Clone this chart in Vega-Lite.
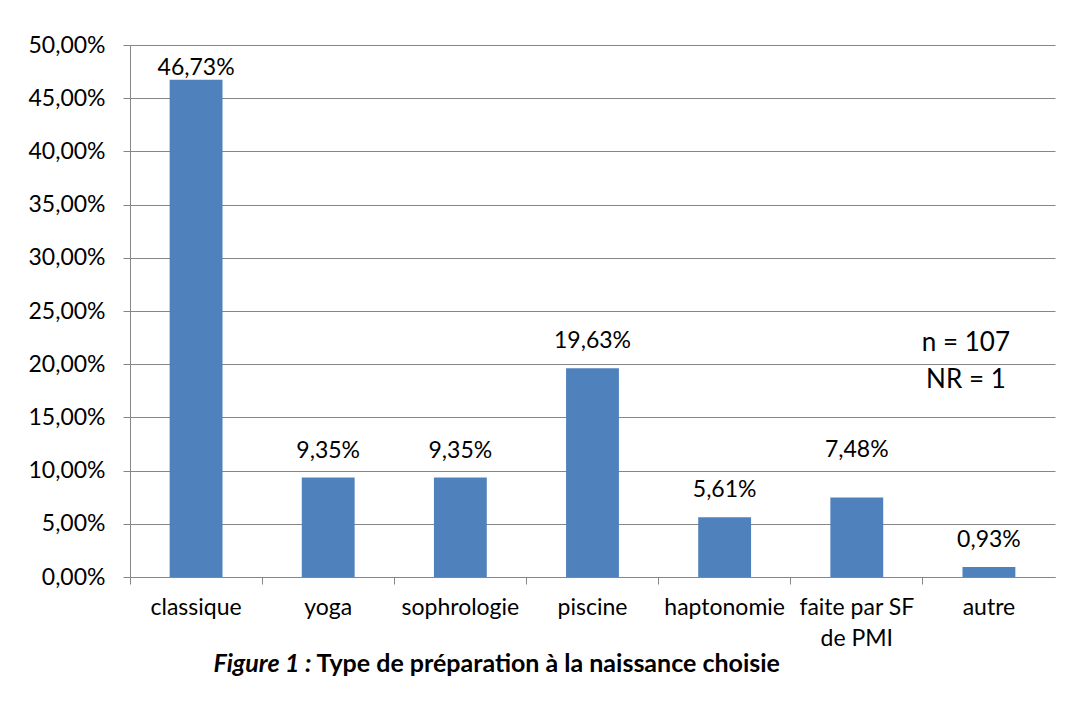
{
  "$schema": "https://vega.github.io/schema/vega-lite/v6.json",
  "autosize": "none",
  "width": 925,
  "height": 532,
  "padding": {"left": 130, "top": 45, "right": 14, "bottom": 143},
  "background": "white",
  "config": {
    "locale": {"number": {"decimal": ",", "thousands": " ", "grouping": [3], "currency": ["", " €"]}},
    "font": "Lato",
    "view": {"stroke": null},
    "axis": {"labelFont": "Lato", "labelFontSize": 23, "labelColor": "#000000", "titleFont": "Lato"}
  },
  "data": {
    "values": [
      {"type": "classique", "pct": 0.4673},
      {"type": "yoga", "pct": 0.0935},
      {"type": "sophrologie", "pct": 0.0935},
      {"type": "piscine", "pct": 0.1963},
      {"type": "haptonomie", "pct": 0.0561},
      {"type": "faite par SF de PMI", "pct": 0.0748},
      {"type": "autre", "pct": 0.0093}
    ]
  },
  "resolve": {"axis": {"x": "independent"}},
  "layer": [
    {
      "mark": {"type": "bar", "color": "#4F81BD", "width": {"band": 0.4}},
      "encoding": {
        "x": {
          "field": "type", "type": "nominal",
          "sort": ["classique", "yoga", "sophrologie", "piscine", "haptonomie", "faite par SF de PMI", "autre"],
          "scale": {"paddingInner": 0, "paddingOuter": 0},
          "axis": {
            "orient": "bottom",
            "bandPosition": 0,
            "labelAngle": 0,
            "domainColor": "#868686",
            "tickColor": "#868686",
            "tickSize": 7,
            "labelPadding": 12,
            "labelLineHeight": 31,
            "labelExpr": "datum.value == 'faite par SF de PMI' ? ['faite par SF', 'de PMI'] : datum.label",
            "title": "Figure 1 :",
            "titleFontSize": 25,
            "titleFontWeight": "bold",
            "titleFontStyle": "italic",
            "titleColor": "#000000",
            "titleAlign": "right",
            "titleBaseline": "alphabetic",
            "titleX": 181,
            "titleY": 94
          }
        },
        "y": {
          "field": "pct", "type": "quantitative",
          "scale": {"domain": [0, 0.5]},
          "axis": {
            "values": [0, 0.05, 0.1, 0.15, 0.2, 0.25, 0.3, 0.35, 0.4, 0.45, 0.5],
            "format": ".2%",
            "title": null,
            "grid": true,
            "gridColor": "#868686",
            "domainColor": "#868686",
            "tickColor": "#868686",
            "tickSize": 7,
            "labelPadding": 18
          }
        }
      }
    },
    {
      "transform": [{"filter": "datum.pct < 0.45 && datum.type != 'faite par SF de PMI'"}],
      "mark": {"type": "text", "fontSize": 23, "font": "Lato", "color": "#000000", "baseline": "middle", "dy": -27},
      "encoding": {
        "x": {
          "field": "type", "type": "nominal",
          "sort": ["classique", "yoga", "sophrologie", "piscine", "haptonomie", "faite par SF de PMI", "autre"],
          "scale": {"paddingInner": 0, "paddingOuter": 0},
          "axis": {
            "orient": "bottom",
            "labels": false, "ticks": false, "domain": false, "grid": false,
            "title": "Type de préparation à la naissance choisie",
            "titleFontSize": 25,
            "titleFontWeight": "bold",
            "titleColor": "#000000",
            "titleAlign": "left",
            "titleBaseline": "alphabetic",
            "titleX": 186,
            "titleY": 94
          }
        },
        "y": {"field": "pct", "type": "quantitative"},
        "text": {"field": "pct", "type": "quantitative", "format": ".2%"}
      }
    },
    {
      "transform": [{"filter": "datum.type == 'faite par SF de PMI'"}],
      "mark": {"type": "text", "fontSize": 23, "font": "Lato", "color": "#000000", "baseline": "middle", "dy": -47},
      "encoding": {
        "x": {"field": "type", "type": "nominal", "sort": ["classique", "yoga", "sophrologie", "piscine", "haptonomie", "faite par SF de PMI", "autre"], "axis": null},
        "y": {"field": "pct", "type": "quantitative"},
        "text": {"field": "pct", "type": "quantitative", "format": ".2%"}
      }
    },
    {
      "transform": [{"filter": "datum.pct >= 0.45"}],
      "mark": {"type": "text", "fontSize": 23, "font": "Lato", "color": "#000000", "baseline": "middle", "dy": -12},
      "encoding": {
        "x": {"field": "type", "type": "nominal", "sort": ["classique", "yoga", "sophrologie", "piscine", "haptonomie", "faite par SF de PMI", "autre"], "axis": null},
        "y": {"field": "pct", "type": "quantitative"},
        "text": {"field": "pct", "type": "quantitative", "format": ".2%"}
      }
    },
    {
      "data": {"values": [{"type": "autre", "pct": 0.22, "note": "n = 107|NR = 1"}]},
      "mark": {"type": "text", "fontSize": 26, "font": "Lato", "color": "#000000", "baseline": "middle", "lineBreak": "|", "lineHeight": 37, "dx": -23},
      "encoding": {
        "x": {"field": "type", "type": "nominal", "sort": ["classique", "yoga", "sophrologie", "piscine", "haptonomie", "faite par SF de PMI", "autre"], "axis": null},
        "y": {"field": "pct", "type": "quantitative"},
        "text": {"field": "note", "type": "nominal"}
      }
    }
  ]
}
